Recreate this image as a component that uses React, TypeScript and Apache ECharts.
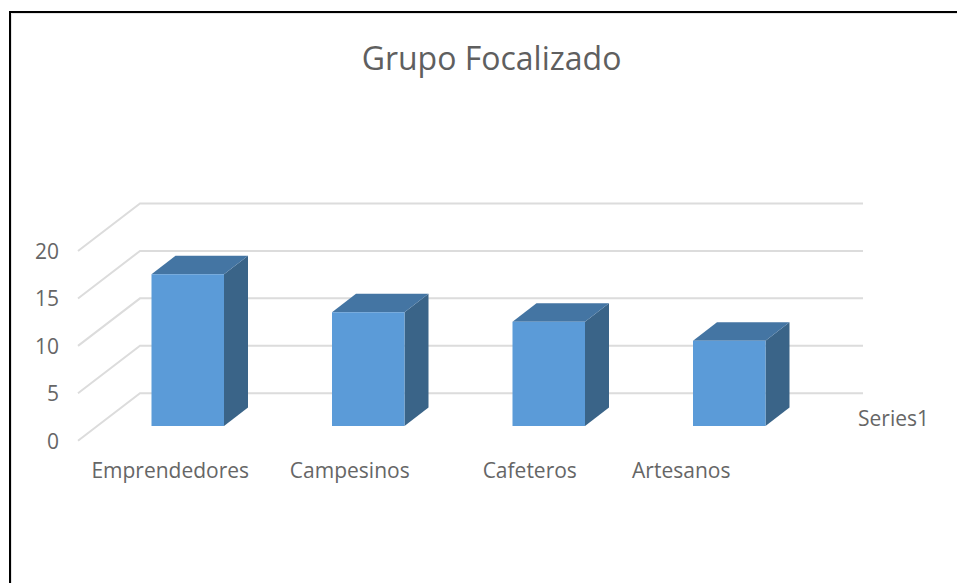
import React, { useEffect, useRef } from "react";
import * as echarts from "echarts";

const categories = ["Emprendedores", "Campesinos", "Cafeteros", "Artesanos"];
const values = [16, 12, 11, 9];
const yTicks = [0, 5, 10, 15, 20];
const seriesName = "Series1";
const titleText = "Grupo Focalizado";

const FONT = "'Open Sans', sans-serif";
const TEXT = "#666666";
const LABEL_SIZE = 21;
const GRID = { left: 97.5, width: 722, top: 251, height: 189.7 };
const BACK_RIGHT_X = 863;
const FLOOR = { dx: 19.5, dy: 14.7 };
const DEPTH = { dx: 62, dy: 47.5 };
const BAR = { width: 72.5, dx: 24, dy: 18.5 };
const LABEL_SHIFT = [-17.5, -18.5, -19, -48];

export default function App() {
  const ref = useRef<HTMLDivElement>(null);
  useEffect(() => {
    const chart = echarts.init(ref.current!, undefined, { renderer: "svg" });
    chart.setOption({
      animation: false,
      backgroundColor: "#ffffff",
      title: {
        text: titleText,
        left: 486.5,
        top: 36,
        textAlign: "center",
        textStyle: { fontFamily: FONT, fontSize: 32, fontWeight: "normal", color: "#5F5F5F" },
      },
      grid: { left: GRID.left, width: GRID.width, top: GRID.top, height: GRID.height },
      xAxis: {
        type: "category",
        data: categories,
        axisLine: { show: false },
        axisTick: { show: false },
        axisLabel: {
          margin: 19,
          interval: 0,
          fontFamily: FONT,
          fontSize: LABEL_SIZE,
          color: TEXT,
          formatter: (v: string) => {
            const i = categories.indexOf(v);
            return `{l${i}|${v}}`;
          },
          rich: Object.fromEntries(
            LABEL_SHIFT.map((s, i) => [
              `l${i}`,
              { padding: [0, -2 * s, 0, 0], fontFamily: FONT, fontSize: LABEL_SIZE, color: TEXT },
            ])
          ),
        },
      },
      yAxis: {
        type: "value",
        min: 0,
        max: 20,
        interval: 5,
        offset: FLOOR.dx,
        axisLine: { show: false },
        axisTick: { show: false },
        splitLine: { show: false },
        axisLabel: { margin: 19, fontFamily: FONT, fontSize: LABEL_SIZE, color: TEXT },
      },
      graphic: [
        {
          type: "polyline",
          silent: true,
          shape: { points: [[11.5, 583], [11.5, 13.5], [957, 13.5]] },
          style: { stroke: "#E4E4E4", lineWidth: 1, fill: "none" },
        },
        {
          type: "polyline",
          silent: true,
          shape: { points: [[10, 583], [10, 12], [957, 12]] },
          style: { stroke: "#000000", lineWidth: 2, fill: "none" },
        },
        {
          type: "text",
          x: 858,
          y: 418,
          style: {
            text: seriesName,
            fontFamily: FONT,
            fontSize: LABEL_SIZE,
            fill: TEXT,
            verticalAlign: "middle",
          },
        },
      ],
      series: [
        {
          type: "custom",
          name: "grid",
          silent: true,
          data: yTicks,
          encode: { y: 0 },
          renderItem: (_p: any, api: any) => {
            const v = api.value(0);
            const [x, y] = api.coord([0, v]);
            const band = api.size([1, 0])[0];
            const fx = x - band / 2 - FLOOR.dx;
            return {
              type: "polyline",
              shape: {
                points: [
                  [fx, y],
                  [fx + DEPTH.dx, y - DEPTH.dy],
                  [BACK_RIGHT_X, y - DEPTH.dy],
                ],
              },
              style: { stroke: "#DCDCDC", lineWidth: 2, fill: "none" },
            };
          },
          z: 1,
        },
        {
          type: "custom",
          name: seriesName,
          data: categories.map((_, i) => [i, values[i]]),
          encode: { x: 0, y: 1 },
          renderItem: (_p: any, api: any) => {
            const i = api.value(0);
            const v = api.value(1);
            const [cx, yTop0] = api.coord([i, v]);
            const [, yBase0] = api.coord([i, 0]);
            const l = cx - BAR.width / 2;
            const r = cx + BAR.width / 2;
            const t = yTop0 - FLOOR.dy;
            const b = yBase0 - FLOOR.dy;
            return {
              type: "group",
              children: [
                {
                  type: "polygon",
                  shape: { points: [[r, t], [r + BAR.dx, t - BAR.dy], [r + BAR.dx, b - BAR.dy], [r, b]] },
                  style: { fill: "#3A6488" },
                },
                {
                  type: "polygon",
                  shape: { points: [[l, t], [l + BAR.dx, t - BAR.dy], [r + BAR.dx, t - BAR.dy], [r, t]] },
                  style: { fill: "#4475A3" },
                },
                {
                  type: "rect",
                  shape: { x: l, y: t, width: BAR.width, height: b - t },
                  style: { fill: "#5B9BD8" },
                },
              ],
            };
          },
          z: 2,
        },
      ],
    });
    return () => chart.dispose();
  }, []);
  return <div ref={ref} style={{ position: "absolute", left: 0, top: 0, width: 957, height: 583 }} />;
}
